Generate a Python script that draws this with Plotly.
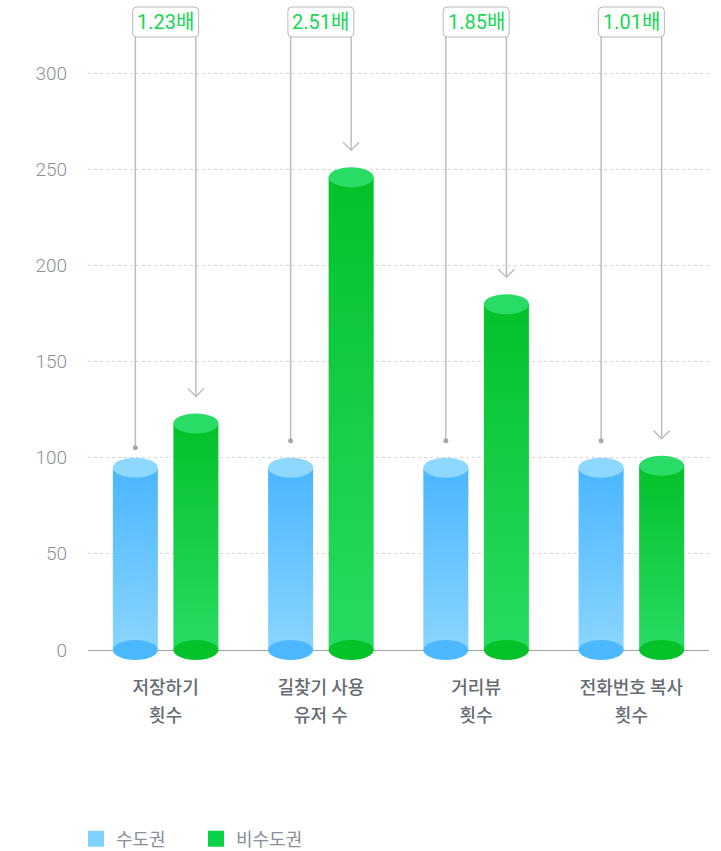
import plotly.graph_objects as go

# --- data -------------------------------------------------------------
categories = ["저장하기<br>횟수", "길찾기 사용<br>유저 수", "거리뷰<br>횟수", "전화번호 복사<br>횟수"]
series_names = ["수도권", "비수도권"]
metro = [100, 100, 100, 100]
non_metro = [123, 251, 185, 101]
y_ticks = [0, 50, 100, 150, 200, 250, 300]

# --- layout constants -------------------------------------------------
W, H = 721, 851
ML, MR, MT, MB = 88, 12, 0, 186
ZERO_PX, TOP_TICK_PX = 650, 73          # pixel rows of 0 and of the top tick
ppu = (ZERO_PX - TOP_TICK_PX) / y_ticks[-1]   # pixels per data unit
plot_h = H - MT - MB
y_max = (ZERO_PX - MT) / ppu
y_min = y_max - plot_h / ppu

BAR_W = 0.29        # cylinder width (category units)
OFFSET = 0.195      # distance of each cylinder from the category centre
RY = 10 / ppu       # half-height of the elliptical caps (data units)
GAP_ARROW = 17      # px between a cylinder top and the arrow tip
GAP_DOT = [10, 17, 17, 17]  # px between a cylinder top and the dot

styles = {
    "metro": dict(body=[[0, "#8AD5FF"], [1, "#4AB6FF"]], top="#8ED8FF", bottom="#4CB8FF",
                  legend="#7FD3FF"),
    "non": dict(body=[[0, "#27DB62"], [1, "#04C12A"]], top="#28DC66", bottom="#05C12A",
                legend="#08D346"),
}
LINE_C = "#BDBDBD"
LABEL_C = "#16D655"
CAT_FONT = dict(family="'Noto Sans CJK KR'", size=18, color="#646B71", weight=500)

fig = go.Figure()
shapes = []


def cylinder(xc, v, st):
    x0, x1 = xc - BAR_W / 2, xc + BAR_W / 2
    top = v - RY
    fig.add_trace(go.Scatter(
        x=[x0, x1, x1, x0, x0], y=[0, 0, top, top, 0],
        mode="lines", fill="toself", line=dict(width=0),
        fillgradient=dict(type="vertical", colorscale=st["body"]),
        hoverinfo="skip", showlegend=False,
    ))
    shapes.append(dict(type="circle", xref="x", yref="y", x0=x0, x1=x1,
                       y0=-RY, y1=RY, fillcolor=st["bottom"], line_width=0, layer="above"))
    shapes.append(dict(type="circle", xref="x", yref="y", x0=x0, x1=x1,
                       y0=v - 2 * RY, y1=v, fillcolor=st["top"], line_width=0, layer="above"))


box_bottom = y_max - 37 / ppu
annotations = []
for i, (m, n) in enumerate(zip(metro, non_metro)):
    xb, xg = i - OFFSET, i + OFFSET
    cylinder(xb, m, styles["metro"])
    cylinder(xg, n, styles["non"])

    # connector from the metro cylinder (dot) to the non-metro one (arrow)
    shapes.append(dict(type="line", xref="x", yref="y", x0=xb, x1=xb,
                       y0=m + GAP_DOT[i] / ppu, y1=box_bottom,
                       line=dict(color=LINE_C, width=1.5), layer="above"))
    shapes.append(dict(type="circle", xref="x", yref="y", xsizemode="pixel", ysizemode="pixel",
                       xanchor=xb, yanchor=m, x0=-2.5, x1=2.5,
                       y0=GAP_DOT[i] - 2.5, y1=GAP_DOT[i] + 2.5,
                       fillcolor="#A9A9A9", line_width=0, layer="above"))
    shapes.append(dict(type="line", xref="x", yref="y", x0=xg, x1=xg,
                       y0=n + GAP_ARROW / ppu, y1=box_bottom,
                       line=dict(color=LINE_C, width=1.5), layer="above"))
    shapes.append(dict(type="path", xref="x", yref="y", xsizemode="pixel", ysizemode="pixel",
                       xanchor=xg, yanchor=n,
                       path=f"M -8,{GAP_ARROW + 8} L 0,{GAP_ARROW} L 8,{GAP_ARROW + 8}",
                       line=dict(color=LINE_C, width=1.5), layer="above"))

    # ratio badge
    shapes.append(dict(type="path", xref="x", yref="paper", xsizemode="pixel", ysizemode="pixel",
                       xanchor=i, yanchor=1,
                       path="M -29,-7 L 29,-7 Q 33,-7 33,-11 L 33,-33 Q 33,-37 29,-37 "
                            "L -29,-37 Q -33,-37 -33,-33 L -33,-11 Q -33,-7 -29,-7 Z",
                       fillcolor="white", line=dict(color="#B8B8B8", width=1), layer="above"))
    annotations.append(dict(x=i, xref="x", y=1, yref="paper", yanchor="middle", yshift=-22,
                            text=f"{n / m:.2f}배", showarrow=False,
                            font=dict(family="Roboto, 'Noto Sans CJK KR'", size=20, color=LABEL_C)))

# legend entries
for name, key in zip(series_names, ["metro", "non"]):
    fig.add_trace(go.Scatter(x=[None], y=[None], mode="markers", name=name,
                             marker=dict(symbol="square", size=16, color=styles[key]["legend"])))

# category labels: first and second line on two stacked bottom axes
line1 = [c.split("<br>")[0] for c in categories]
line2 = [c.split("<br>")[1] for c in categories]
tick_pos = list(range(len(categories)))
fig.add_trace(go.Scatter(x=tick_pos, y=[None] * len(tick_pos), xaxis="x2", mode="markers",
                         hoverinfo="skip", showlegend=False))

fig.update_layout(
    width=W, height=H,
    margin=dict(l=ML, r=MR, t=MT, b=MB, pad=0),
    paper_bgcolor="white", plot_bgcolor="white",
    shapes=shapes, annotations=annotations,
    showlegend=True,
    legend=dict(orientation="h", xref="container", yref="container",
                x=76 / W, xanchor="left", y=(H - 839) / H, yanchor="middle",
                entrywidth=75,
                font=dict(family="'Noto Sans CJK KR'", size=18, color="#8A9096"),
                itemclick=False, itemdoubleclick=False),
    xaxis=dict(range=[-0.5, 3.5], tickvals=tick_pos, ticktext=line1,
               showgrid=False, zeroline=False, showline=False, ticks="",
               ticklabelstandoff=10, tickfont=CAT_FONT),
    xaxis2=dict(range=[-0.5, 3.5], tickvals=tick_pos, ticktext=line2,
                overlaying="x", side="bottom", anchor="y",
                showgrid=False, zeroline=False, showline=False, ticks="",
                ticklabelstandoff=38, tickfont=CAT_FONT),
    yaxis=dict(range=[y_min, y_max], tickvals=y_ticks, showgrid=True,
               gridcolor="#D6D6D6", griddash="3px,3px", gridwidth=1,
               zeroline=True, zerolinecolor="#A3A3A3", zerolinewidth=1,
               showline=False, ticks="", ticklabelstandoff=20,
               tickfont=dict(family="Roboto", size=19, color="#8A9096", weight=300)),
)

fig.write_html("out.html")
